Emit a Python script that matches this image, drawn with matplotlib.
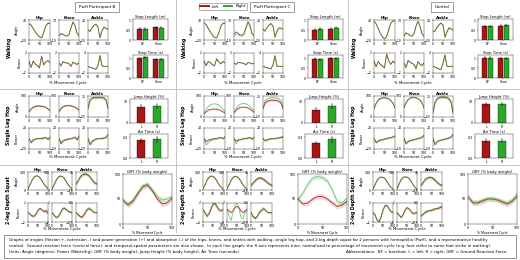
import matplotlib
matplotlib.use("Agg")
import matplotlib.pyplot as plt
from matplotlib.lines import Line2D
from matplotlib.patches import Rectangle

# % movement cycle sample points
cycle = [0, 10, 20, 30, 40, 50, 60, 70, 80, 90, 100]

# ---------------- Walking: angles [hip, knee, ankle], L and R ----------------
walk_ang_B_L = [[28, 24, 14, 4, -4, -11, -14, 2, 22, 30, 29],
                [6, 16, 12, 7, 5, 12, 38, 62, 48, 18, 6],
                [0, -3, 4, 9, 12, 6, -16, -2, 5, 3, 1]]
walk_ang_B_R = [[30, 26, 15, 5, -3, -10, -13, 4, 24, 31, 30],
                [10, 12, 14, 9, 6, 14, 40, 63, 46, 16, 7],
                [1, -2, 5, 10, 11, 4, -15, 0, 6, 4, 2]]
walk_pow_B_L = [[0.3, -0.9, 0.4, -0.2, -0.6, -1.0, 1.4, -0.4, 0.2, 0.5, 0.1],
                [0, -0.6, 0.3, 0.1, 0, -0.2, -0.7, 0.2, -0.1, -0.3, 0],
                [0, -0.3, -0.5, -0.7, -0.9, 0.3, 3.3, 0.1, 0, 0, 0]]
walk_pow_B_R = [[0.5, -0.7, 0.2, -0.3, -0.4, -0.7, 1.2, -0.3, 0.3, 0.4, 0],
                [0, -0.4, 0.2, 0, 0.1, -0.1, -0.5, 0.1, 0, -0.2, 0],
                [0, -0.2, -0.4, -0.6, -0.8, 0.2, 3.0, 0.2, 0, 0, 0]]

walk_ang_C_L = [[32, 26, 15, 5, -5, -12, -14, 0, 20, 30, 30],
                [12, 22, 17, 11, 9, 16, 40, 63, 45, 15, 8],
                [2, -2, 5, 10, 13, 8, -14, -3, 4, 3, 2]]
walk_ang_C_R = [[31, 25, 14, 4, -6, -13, -13, 2, 22, 31, 31],
                [6, 12, 10, 6, 5, 12, 36, 62, 50, 18, 6],
                [1, -3, 4, 9, 12, 7, -15, -1, 5, 4, 2]]
walk_pow_C_L = [[0.4, -0.5, 0.3, 0.1, -0.3, -0.6, 0.8, 0.3, -0.2, 0.3, 0.1],
                [0, -0.3, 0.1, 0.1, 0, -0.1, -0.4, 0.1, 0, -0.2, 0],
                [0, -0.2, -0.4, -0.6, -0.8, 0.5, 3.2, 0, 0, 0, 0]]
walk_pow_C_R = [[0.3, -0.6, 0.2, 0, -0.4, -0.5, 0.9, 0.2, -0.1, 0.2, 0],
                [0, -0.2, 0.1, 0, 0, -0.2, -0.3, 0.1, 0, -0.1, 0],
                [0, -0.3, -0.5, -0.6, -0.7, 0.4, 3.0, 0.1, 0, 0, 0]]

walk_ang_K_L = [[36, 28, 14, 0, -11, -17, -10, 10, 30, 37, 37],
                [5, 18, 14, 8, 5, 15, 45, 65, 45, 15, 5],
                [-4, -2, 5, 10, 14, 10, -14, -4, 4, 2, 0]]
walk_ang_K_R = [[37, 29, 15, 1, -10, -16, -9, 12, 31, 38, 37],
                [6, 19, 15, 9, 6, 16, 46, 64, 44, 14, 6],
                [-3, -1, 6, 11, 14, 9, -15, -3, 5, 3, 1]]
walk_pow_K_L = [[0.5, -0.8, 0.3, -0.3, -0.6, -1.0, 1.8, 0.5, -0.3, 0.4, 0],
                [0, -0.8, 0.5, 0.2, 0, -0.3, -1.0, 0.3, -0.2, -0.5, 0],
                [0, -0.3, -0.5, -0.8, -1.0, 1.0, 3.5, 0, 0, 0, 0]]
walk_pow_K_R = [[0.4, -0.7, 0.2, -0.2, -0.5, -0.8, 1.6, 0.3, -0.2, 0.3, 0],
                [0, -1.1, 0.3, 0.1, -0.1, -0.4, -1.3, 0.2, -0.3, -0.6, 0],
                [0, -0.2, -0.4, -0.7, -0.9, 0.8, 3.2, 0, 0, 0, 0]]

# ---------------- Single leg hop ----------------
hop_ang_B_L = [[25, 38, 46, 50, 52, 52, 51, 49, 45, 38, 30],
               [25, 40, 48, 52, 54, 54, 53, 50, 46, 40, 32],
               [-5, 15, 20, 21, 21, 21, 21, 21, 20, 15, -5]]
hop_ang_B_R = [[27, 40, 48, 52, 54, 54, 53, 51, 47, 40, 32],
               [27, 42, 50, 54, 56, 56, 55, 52, 48, 42, 34],
               [-3, 16, 21, 22, 22, 22, 22, 22, 21, 16, -3]]
hop_pow_B_L = [[0, -8, -3, -1, 0, 0, 0, 1, 2, -2, 3],
               [0, -10, -5, -3, -2, -1, 0, 1, 3, -3, 5],
               [0, -12, -6, -3, -1, 0, 0, 0, 1, 2, 8]]
hop_pow_B_R = [[0, -6, -2, -1, 0, 0, 1, 1, 2, -1, 2],
               [0, -8, -4, -2, -1, 0, 0, 1, 2, -2, 4],
               [0, -10, -5, -2, -1, 0, 0, 1, 1, 3, 7]]

hop_ang_C_L = [[15, 25, 32, 36, 38, 38, 37, 35, 30, 25, 18],
               [20, 32, 40, 45, 47, 47, 46, 43, 38, 30, 22],
               [-5, 8, 12, 14, 15, 15, 15, 14, 12, 8, -5]]
hop_ang_C_R = [[20, 38, 50, 58, 62, 63, 62, 58, 50, 38, 25],
               [22, 40, 52, 60, 64, 65, 63, 58, 50, 40, 28],
               [-3, 14, 18, 20, 21, 21, 21, 20, 18, 14, -2]]
hop_pow_C_L = [[0, -6, -3, -2, -1, 0, 0, 1, 2, 0, 3],
               [0, -5, -3, -2, -1, 0, 0, 1, 2, -1, 2],
               [0, -4, -2, -1, 0, 0, 0, 1, 1, 2, 3]]
hop_pow_C_R = [[0, -12, -8, -4, -2, -1, 0, 1, 2, -1, 4],
               [0, -10, -4, -2, -1, 0, 0, 1, 2, -1, 3],
               [0, -5, -3, -2, -1, 0, 0, 1, 2, 3, 4]]

hop_ang_K_L = [[40, 65, 80, 88, 91, 92, 90, 86, 78, 65, 45],
               [45, 68, 82, 90, 93, 93, 91, 87, 80, 66, 45],
               [-15, 10, 18, 21, 22, 22, 22, 21, 18, 10, -15]]
hop_ang_K_R = [[42, 66, 81, 89, 92, 92, 91, 87, 79, 66, 46],
               [46, 69, 83, 91, 94, 94, 92, 88, 81, 67, 46],
               [-14, 11, 19, 22, 23, 23, 23, 22, 19, 11, -14]]
hop_pow_K_L = [[0, -8, -5, -3, -2, -1, 0, 1, 2, 3, 5],
               [0, -10, -6, -4, -3, -2, -1, 0, 1, 3, 6],
               [0, -12, -6, -4, -3, -2, -1, 0, 1, 3, 8]]
hop_pow_K_R = [[0, -7, -4, -3, -2, -1, 0, 1, 2, 3, 4],
               [0, -9, -5, -4, -3, -2, -1, 0, 1, 2, 5],
               [0, -11, -6, -4, -3, -2, -1, 0, 1, 3, 7]]

# ---------------- 2-leg depth squat ----------------
sq_ang_B_L = [[10, 40, 75, 100, 110, 108, 95, 70, 45, 25, 12],
              [10, 38, 72, 98, 108, 106, 92, 68, 42, 22, 10],
              [5, 15, 28, 35, 38, 37, 33, 25, 15, 8, 5]]
sq_ang_B_R = [[12, 42, 77, 102, 111, 109, 96, 72, 47, 27, 13],
              [11, 40, 74, 99, 109, 107, 93, 70, 44, 24, 11],
              [6, 17, 30, 37, 40, 39, 35, 27, 17, 9, 6]]
sq_pow_B_L = [[0, -0.3, -0.7, -0.8, -0.3, 0.5, 0.9, 0.6, 0.2, 0.5, -0.2],
              [0, -0.5, -1.0, -0.9, -0.3, 0.6, 1.0, 0.7, 0.3, 0.1, 0],
              [0, -0.1, -0.2, -0.25, -0.1, 0.1, 0.2, 0.15, 0.05, 0, 0]]
sq_pow_B_R = [[0, -0.4, -0.8, -0.7, -0.2, 0.6, 0.8, 0.5, 0.2, 0.1, 0],
              [0, -0.6, -1.1, -0.8, -0.2, 0.7, 0.9, 0.6, 0.2, 0.1, 0],
              [0, -0.15, -0.25, -0.2, -0.05, 0.15, 0.25, 0.2, 0.05, 0, 0]]

sq_ang_C_L = [[10, 40, 75, 98, 108, 105, 92, 68, 42, 22, 10],
              [10, 40, 74, 97, 106, 104, 90, 66, 40, 20, 10],
              [0, 8, 16, 22, 25, 24, 20, 14, 8, 3, 0]]
sq_ang_C_R = [[12, 42, 77, 100, 110, 107, 94, 70, 44, 24, 12],
              [12, 42, 76, 99, 108, 106, 92, 68, 42, 22, 12],
              [2, 10, 18, 24, 27, 26, 22, 16, 10, 5, 2]]
sq_pow_C_L = [[0, -1, -2, -1.5, 0, 1.5, 2, 1, 0, -0.5, 0],
              [0, -0.5, -1, -0.5, 0.5, 1, 0.5, -0.5, -1, -0.5, 0],
              [0, -0.2, -0.3, -0.2, 0, 0.1, 0.2, 0.1, 0, 0, 0]]
sq_pow_C_R = [[0, -1.5, -2.5, -1, 0.5, 2, 1.5, 0.5, -0.5, -0.5, 0],
              [0, -2, -3.5, -1, 1.5, 2, 0, -2.5, -3, -1, 0],
              [0, -0.25, -0.35, -0.2, 0.05, 0.15, 0.25, 0.1, 0, 0, 0]]

sq_ang_K_L = [[10, 40, 75, 95, 100, 98, 88, 65, 40, 20, 10],
              [10, 45, 80, 98, 102, 100, 90, 68, 42, 20, 8],
              [0, 10, 20, 25, 27, 26, 22, 15, 8, 3, 0]]
sq_ang_K_R = [[11, 41, 76, 96, 101, 99, 89, 66, 41, 21, 11],
              [11, 46, 81, 99, 103, 101, 91, 69, 43, 21, 9],
              [1, 11, 21, 26, 28, 27, 23, 16, 9, 4, 1]]
sq_pow_K_L = [[0, -0.5, -1.5, -2, -1, 0.5, 1.5, 1.5, 0.8, 0.2, 0],
              [0, -0.5, -1, -0.5, 0.5, 1, 0.8, 0.2, -0.2, -0.1, 0],
              [-0.2, -0.1, 0, 0.05, 0.1, 0.1, 0.15, 0.2, 0.2, 0.25, 0.3]]
sq_pow_K_R = [[0, -0.6, -1.6, -1.9, -0.8, 0.6, 1.4, 1.4, 0.7, 0.2, 0],
              [0, -0.6, -1.1, -0.4, 0.6, 1.1, 0.7, 0.1, -0.3, -0.1, 0],
              [-0.15, -0.05, 0.05, 0.1, 0.1, 0.15, 0.2, 0.2, 0.25, 0.3, 0.35]]

# GRF (% body weight)
grf_B_L = [47, 38, 45, 60, 74, 78, 66, 50, 40, 42, 52]
grf_B_R = [48, 40, 48, 63, 77, 80, 68, 55, 48, 50, 55]
grf_C_L = [50, 40, 42, 50, 55, 55, 50, 42, 35, 38, 45]
grf_C_R = [50, 62, 80, 92, 95, 93, 86, 68, 45, 42, 52]
grf_K_L = [55, 42, 42, 46, 50, 50, 48, 44, 40, 45, 55]
grf_K_R = [54, 44, 44, 48, 51, 51, 49, 45, 42, 48, 60]

# ---------------- Bar data ----------------
walk_groups = ['BF', 'Shoe']
hop_groups = ['L', 'R']
step_len_L = [[0.60, 0.66], [0.55, 0.60], [0.72, 0.74]]
step_len_R = [[0.58, 0.64], [0.58, 0.65], [0.72, 0.76]]
step_time_L = [[1.02, 0.98], [1.00, 1.02], [1.05, 1.02]]
step_time_R = [[1.08, 0.98], [0.98, 1.03], [1.04, 1.02]]
jump_height = [[7.5, 7.8], [6.0, 7.8], [8.5, 8.6]]
jump_height_err = [[0.8, 0.9], [0.7, 1.0], [0.5, 0.5]]
air_time = [[0.26, 0.27], [0.22, 0.27], [0.25, 0.25]]
air_time_err = [[0.02, 0.03], [0.02, 0.03], [0.02, 0.02]]

col_titles = ['PwH Participant B', 'PwH Participant C', 'Control']
joints = ['Hip', 'Knee', 'Ankle']

RED = '#a81616'
GREEN = '#2aa82a'
W, H = 520, 260
TS = 2.3  # tick font size

fig = plt.figure(figsize=(W / 100, H / 100), dpi=100)


def px_axes(x0, y0, x1, y1):
    return fig.add_axes([x0 / W, 1 - y1 / H, (x1 - x0) / W, (y1 - y0) / H])


def style(ax):
    for s in ax.spines.values():
        s.set_linewidth(0.35)
        s.set_color('#444444')
    ax.tick_params(labelsize=TS, length=1, width=0.3, pad=0.6)


def line_panel(ax, yl, yr, ylim, sd=0.0):
    if sd:
        ax.fill_between(cycle, [v - sd for v in yl], [v + sd for v in yl],
                        color=RED, alpha=0.16, lw=0)
        ax.fill_between(cycle, [v - sd for v in yr], [v + sd for v in yr],
                        color=GREEN, alpha=0.16, lw=0)
    ax.plot(cycle, yl, color=RED, lw=0.6, alpha=0.9)
    ax.plot(cycle, yr, color=GREEN, lw=0.6, alpha=0.6)
    ax.set_xlim(0, 100)
    ax.set_ylim(*ylim)
    ax.set_xticks([0, 50, 100])
    ax.set_yticks([ylim[0], ylim[1]])
    style(ax)


def txt(x, y, s, **kw):
    kw.setdefault('fontsize', 3)
    kw.setdefault('ha', 'center')
    kw.setdefault('va', 'center')
    fig.text(x / W, 1 - y / H, s, **kw)


offsets = [0, 175, 345]
walk_x = [(29, 50), (59, 79), (88, 108)]
sq_x = [(28, 48), (52, 72), (76, 97)]

walk_ang = [(walk_ang_B_L, walk_ang_B_R), (walk_ang_C_L, walk_ang_C_R), (walk_ang_K_L, walk_ang_K_R)]
walk_pow = [(walk_pow_B_L, walk_pow_B_R), (walk_pow_C_L, walk_pow_C_R), (walk_pow_K_L, walk_pow_K_R)]
hop_ang = [(hop_ang_B_L, hop_ang_B_R), (hop_ang_C_L, hop_ang_C_R), (hop_ang_K_L, hop_ang_K_R)]
hop_pow = [(hop_pow_B_L, hop_pow_B_R), (hop_pow_C_L, hop_pow_C_R), (hop_pow_K_L, hop_pow_K_R)]
sq_ang = [(sq_ang_B_L, sq_ang_B_R), (sq_ang_C_L, sq_ang_C_R), (sq_ang_K_L, sq_ang_K_R)]
sq_pow = [(sq_pow_B_L, sq_pow_B_R), (sq_pow_C_L, sq_pow_C_R), (sq_pow_K_L, sq_pow_K_R)]
grf = [(grf_B_L, grf_B_R), (grf_C_L, grf_C_R), (grf_K_L, grf_K_R)]

walk_ang_lim = [(-20, 40), (-10, 70), (-20, 20)]
walk_pow_lim = [(-2, 2), (-2, 2), (-2, 4)]
hop_ang_lim = [(0, 100), (0, 100), (-25, 25)]
hop_pow_lim = [(-20, 20), (-20, 20), (-20, 20)]
sq_ang_lim = [(0, 140), (0, 140), (-15, 45)]
sq_pow_lim = [[(-2, 2), (-2, 2), (-0.5, 0.5)],
              [(-4, 2), (-4, 2), (-0.5, 0.5)],
              [(-2, 2), (-2, 2), (-0.5, 0.5)]]

for c, ox in enumerate(offsets):
    # column title box
    txt(ox + 97, 7, col_titles[c], fontsize=3.0,
        bbox=dict(boxstyle='square,pad=0.8', fc='white', ec='#555555', lw=0.4))

    # ---- walking ----
    txt(ox + 9, 47, 'Walking', fontsize=3.3, fontweight='bold', rotation=90)
    for j in range(3):
        x0, x1 = walk_x[j]
        a = px_axes(ox + x0, 20, ox + x1, 40)
        line_panel(a, walk_ang[c][0][j], walk_ang[c][1][j], walk_ang_lim[j])
        a.set_title(joints[j], fontsize=3.0, fontweight='bold', pad=0.8)
        p = px_axes(ox + x0, 53, ox + x1, 73)
        line_panel(p, walk_pow[c][0][j], walk_pow[c][1][j], walk_pow_lim[j])
        if j == 0:
            a.set_ylabel('Angle', fontsize=2.6, labelpad=0.5)
            p.set_ylabel('Power', fontsize=2.6, labelpad=0.5)
    txt(ox + 68, 83, '% Movement Cycle', fontsize=2.8)

    for k, (vl, vr, ttl, lim) in enumerate([
            (step_len_L[c], step_len_R[c], 'Step Length (m)', (0, 1.1)),
            (step_time_L[c], step_time_R[c], 'Step Time (s)', (0, 1.2))]):
        y0, y1 = [(19, 40), (55, 78)][k]
        b = px_axes(ox + 133, y0, ox + 168, y1)
        xs = [0, 1]
        b.bar([x - 0.18 for x in xs], vl, 0.34, color=RED, ec='black', lw=0.25,
              yerr=[0.03, 0.03], error_kw=dict(lw=0.3, capsize=0.6, capthick=0.3))
        b.bar([x + 0.18 for x in xs], vr, 0.34, color=GREEN, ec='black', lw=0.25,
              yerr=[0.03, 0.03], error_kw=dict(lw=0.3, capsize=0.6, capthick=0.3))
        b.set_xlim(-0.6, 1.6)
        b.set_ylim(*lim)
        b.set_xticks(xs)
        b.set_xticklabels(walk_groups)
        b.set_yticks([0, 0.5, 1])
        b.set_yticklabels(['0', '0.5', '1'])
        b.set_title(ttl, fontsize=2.7, pad=0.8)
        style(b)

    # ---- single leg hop ----
    txt(ox + 9, 125, 'Single Leg Hop', fontsize=3.3, fontweight='bold', rotation=90)
    for j in range(3):
        x0, x1 = walk_x[j]
        a = px_axes(ox + x0, 96, ox + x1, 117)
        line_panel(a, hop_ang[c][0][j], hop_ang[c][1][j], hop_ang_lim[j], sd=[2, 2, 3][j])
        a.set_title(joints[j], fontsize=3.0, fontweight='bold', pad=0.8)
        p = px_axes(ox + x0, 128, ox + x1, 149)
        line_panel(p, hop_pow[c][0][j], hop_pow[c][1][j], hop_pow_lim[j], sd=1.5)
        if j == 0:
            a.set_ylabel('Angle', fontsize=2.6, labelpad=0.5)
            p.set_ylabel('Power', fontsize=2.6, labelpad=0.5)
    txt(ox + 68, 157, '% Movement Cycle', fontsize=2.8)

    for k, (vals, errs, ttl, lim, tk) in enumerate([
            (jump_height[c], jump_height_err[c], 'Jump Height (%)', (0, 11), [0, 10]),
            (air_time[c], air_time_err[c], 'Air Time (s)', (0, 0.35), [0, 0.3])]):
        y0, y1 = [(99, 123), (134, 158)][k]
        b = px_axes(ox + 130, y0, ox + 168, y1)
        b.bar([0, 1], vals, 0.55, color=[RED, GREEN], ec='black', lw=0.25,
              yerr=errs, error_kw=dict(lw=0.3, capsize=0.6, capthick=0.3))
        b.set_xlim(-0.7, 1.7)
        b.set_ylim(*lim)
        b.set_xticks([0, 1])
        b.set_xticklabels(hop_groups)
        b.set_yticks(tk)
        b.set_title(ttl, fontsize=2.7, pad=0.8)
        style(b)

    # ---- 2-leg depth squat ----
    txt(ox + 9, 200, '2-leg Depth Squat', fontsize=3.3, fontweight='bold', rotation=90)
    for j in range(3):
        x0, x1 = sq_x[j]
        a = px_axes(ox + x0, 172, ox + x1, 190)
        line_panel(a, sq_ang[c][0][j], sq_ang[c][1][j], sq_ang_lim[j], sd=[3, 3, 5][j])
        a.set_title(joints[j], fontsize=3.0, fontweight='bold', pad=0.8)
        p = px_axes(ox + x0, 203, ox + x1, 222)
        line_panel(p, sq_pow[c][0][j], sq_pow[c][1][j], sq_pow_lim[c][j],
                   sd=[0.2, 0.2, 0.05][j])
        if j == 0:
            a.set_ylabel('Angle', fontsize=2.6, labelpad=0.5)
            p.set_ylabel('Power', fontsize=2.6, labelpad=0.5)
    txt(ox + 62, 229, '% Movement Cycle', fontsize=2.8)

    g = px_axes(ox + 123, 174, ox + 172, 224)
    line_panel(g, grf[c][0], grf[c][1], (0, 100), sd=5)
    g.set_yticks([0, 50, 100])
    g.set_title('GRF (% body weight)', fontsize=2.7, pad=0.8)
    g.set_xlabel('% Movement Cycle', fontsize=2.3, labelpad=0.5)

# legend in column C header
handles = [Line2D([], [], color=RED, lw=1.4), Line2D([], [], color=GREEN, lw=1.4)]
fig.legend(handles, ['Left', 'Right'], loc='center', bbox_to_anchor=(223 / W, 1 - 6.5 / H),
           ncol=2, fontsize=2.8, frameon=True, fancybox=False, edgecolor='#555555',
           handlelength=2.2, columnspacing=1.2, borderpad=0.4).get_frame().set_linewidth(0.4)

# separators
for xs in [176, 348]:
    fig.add_artist(Line2D([xs / W, xs / W], [1 - 232 / H, 1], color='#bbbbbb', lw=0.6))
for ys in [89, 165]:
    fig.add_artist(Line2D([0, 1], [1 - ys / H, 1 - ys / H], color='#bbbbbb', lw=0.6))

# caption box
fig.add_artist(Rectangle((4 / W, 1 - 258 / H), 512 / W, 23 / H, transform=fig.transFigure,
                         fill=False, ec='#666666', lw=0.5))
cap1 = ('Graphs of angles (flexion +, extension -) and power generation (+) and absorption (-) of the hips, '
        'knees, and ankles with walking, single leg hop, and 2-leg depth squat for 2 persons with hemophilia '
        '(PwH), and a representative healthy')
cap2 = ('control.  Ground reaction force (vertical force), and temporal-spatial parameters are also shown.  '
        'In each line graph, the X-axis represents time, normalized to percentage of movement cycle '
        '(e.g. foot strike to same foot strike in walking).')
cap3 = ('Units: Angle (degrees), Power (Watts/kg), GRF (% body weight), Jump Height (% body height), '
        'Air Time (seconds).')
cap4 = 'Abbreviations:  BF = barefoot, L = left, R = right, GRF = Ground Reaction Force'
txt(9, 240.5, cap1, fontsize=2.85, ha='left')
txt(9, 246.5, cap2, fontsize=2.85, ha='left')
txt(9, 252.5, cap3, fontsize=2.85, ha='left')
txt(506, 252.5, cap4, fontsize=2.85, ha='right')

fig.savefig('out.png', dpi=100)
